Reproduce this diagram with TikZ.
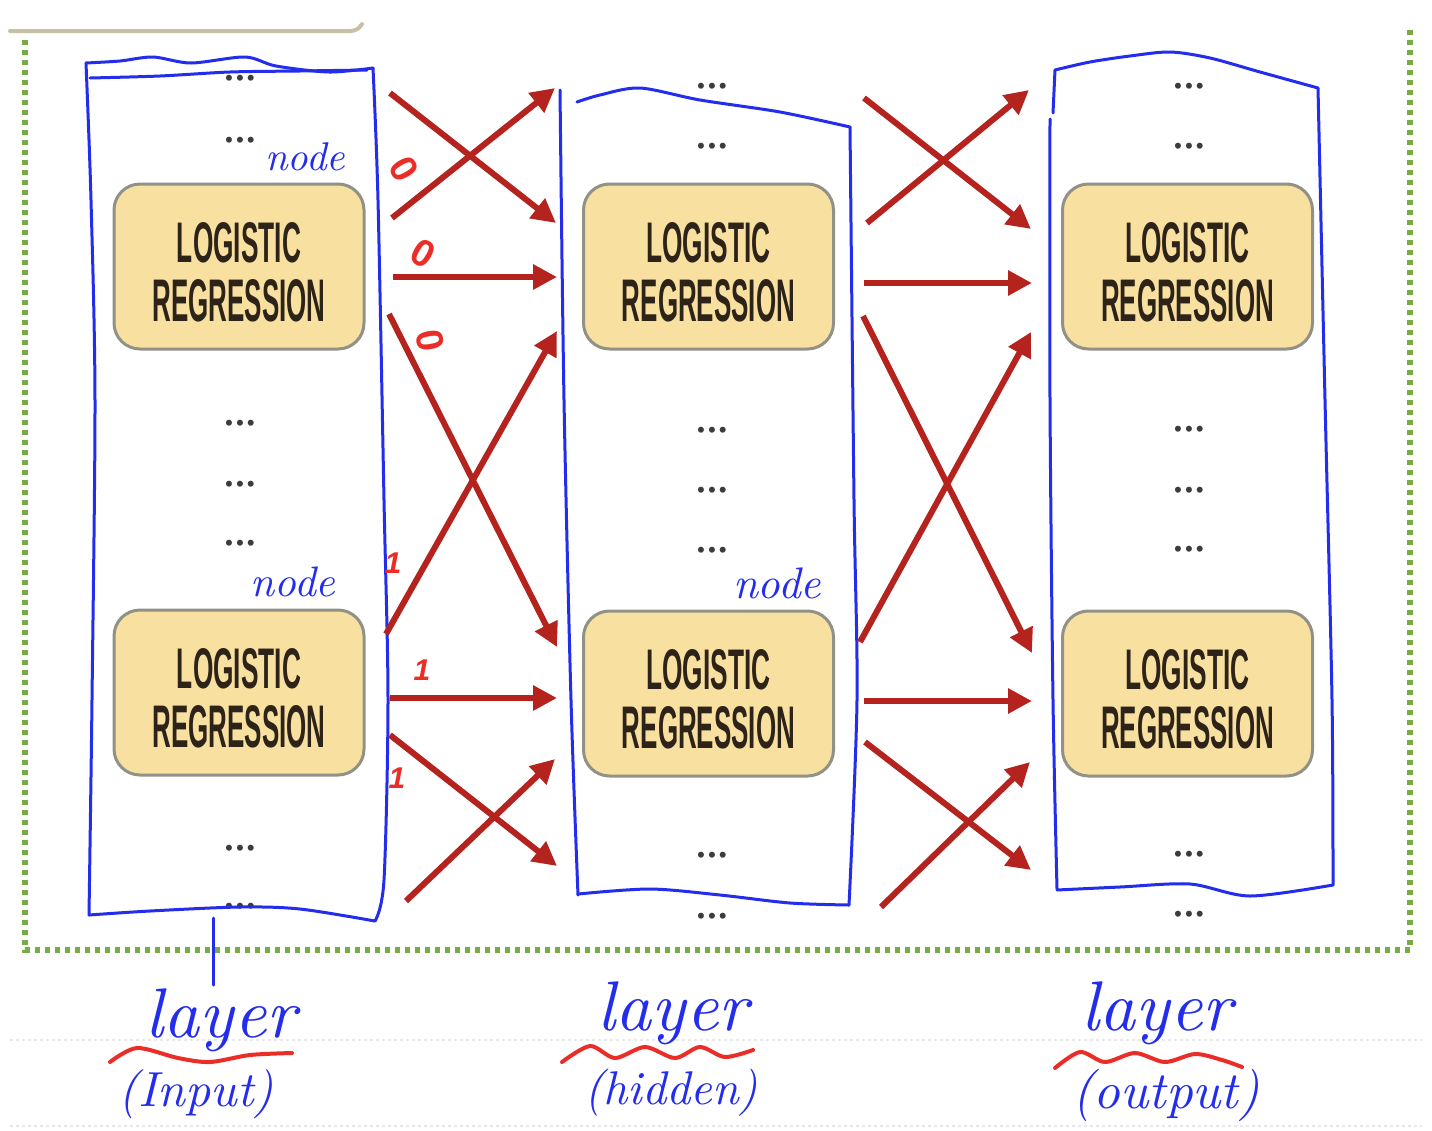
\documentclass[tikz,border=0pt]{standalone}
\usepackage{fontspec}
\usepackage{graphicx}
\newfontfamily\lrfont{Liberation Sans}
\newfontfamily\dotfont{DejaVu Sans}
\usetikzlibrary{arrows.meta}
\definecolor{pen}{RGB}{35,45,235}
\definecolor{arrred}{RGB}{180,35,30}
\definecolor{inkred}{RGB}{235,45,40}
\definecolor{lrfill}{RGB}{248,225,160}
\definecolor{lrline}{RGB}{145,145,135}
\definecolor{lrtext}{RGB}{45,35,25}
\definecolor{dotgreen}{RGB}{120,170,70}
\definecolor{dotgray}{RGB}{60,60,60}
\definecolor{bartan}{RGB}{200,192,165}
\definecolor{faint}{RGB}{232,232,232}
\tikzset{
  lrbox/.style={draw=lrline, line width=3pt, fill=lrfill, rounded corners=26pt,
    minimum width=250pt, minimum height=165pt, inner sep=0pt},
  lrtxt/.style={text=lrtext, inner sep=0pt, font=\lrfont\bfseries},
  ell/.style={text=dotgray, inner sep=0pt, font=\dotfont\bfseries\fontsize{17}{17}\selectfont},
  hand/.style={text=pen, inner sep=0pt, font=\itshape},
  pencil/.style={draw=pen, line width=3pt, line cap=round, line join=round},
  arr/.style={draw=arrred, line width=6pt, -{Triangle[length=24pt,width=24pt]}},
  squig/.style={draw=inkred, line width=4pt, line cap=round},
  redzero/.style={text=inkred, inner sep=0pt, font=\lrfont\bfseries\fontsize{38}{38}\selectfont},
  redone/.style={text=inkred, inner sep=0pt, font=\lrfont\bfseries\itshape\fontsize{30}{30}\selectfont},
  greendots/.style={draw=dotgreen, line width=6pt, dash pattern=on 5pt off 5pt},
}
\newcommand\LRlabels[1]{%
  \node[lrtxt] (#1-l1) at ([yshift=24pt]#1.center) {\resizebox{124pt}{40pt}{LOGISTIC}};
  \node[lrtxt] (#1-l2) at ([yshift=-34pt]#1.center) {\resizebox{173pt}{42pt}{REGRESSION}};}
\begin{document}
\begin{tikzpicture}[x=1pt,y=-1pt]
\fill[white] (0,0) rectangle (1432,1130);
\useasboundingbox (0,0) rectangle (1432,1130);

% top-left bar (edge of a box above)
\draw[bartan, line width=4pt, line cap=round] (10,31) -- (350,31) to[out=0,in=-120] (362,24);

% faint dotted guide lines
\draw[faint, line width=2pt, dash pattern=on 3pt off 3pt] (10,1040) -- (1422,1040);
\draw[faint, line width=2pt, dash pattern=on 3pt off 3pt] (10,1126) -- (1422,1126);

% green dotted frame
\draw[greendots] (25,40) -- (25,950) -- (1410,950) -- (1410,30);

% logistic regression boxes
\node[lrbox] (a1) at (239,266.5) {};
\node[lrbox] (a2) at (239,692.5) {};
\node[lrbox] (b1) at (708.5,266.5) {};
\node[lrbox] (b2) at (708.5,693.5) {};
\node[lrbox] (c1) at (1187.5,266.5) {};
\node[lrbox] (c2) at (1187.5,693.5) {};
\LRlabels{a1}\LRlabels{a2}\LRlabels{b1}\LRlabels{b2}\LRlabels{c1}\LRlabels{c2}

% ellipsis dots
\foreach \x/\y [count=\i] in {240/80,240/142,240/425,240/486,240/545,240/850,240/908,
  712/88,712/148,712/432,712/492,712/552,712/857,712/918,
  1189/88,1189/148,1189/431,1189/492,1189/551,1189/856,1189/916}
  \node[ell] (dots\i) at (\x,\y) {•••};

% hand-drawn blue layer boxes
\draw[pencil] plot[smooth] coordinates {(86,63) (120,61) (153,57) (191,63) (245,57) (276,66) (329,72) (373,68)};
\draw[pencil] plot[smooth] coordinates {(90,78) (160,76) (230,72) (300,71) (367,70)};
\draw[pencil] plot[smooth] coordinates {(86,63) (91,200) (95,400) (92,700) (89,915)};
\draw[pencil] plot[smooth] coordinates {(373,68) (378,200) (384,500) (388,700) (384,880) (375,921)};
\draw[pencil] plot[smooth] coordinates {(89,915) (150,911) (240,907) (300,909) (375,921)};
\draw[pencil] (213,918) -- (213,985);

\draw[pencil] plot[smooth] coordinates {(577,102) (600,95) (640,88) (700,100) (780,112) (850,127)};
\draw[pencil] plot[smooth] coordinates {(560,90) (564,400) (571,700) (578,895)};
\draw[pencil] plot[smooth] coordinates {(850,127) (854,500) (857,700) (849,905)};
\draw[pencil] plot[smooth] coordinates {(578,894) (650,889) (720,895) (790,903) (849,905)};

\draw[pencil] plot[smooth] coordinates {(1055,70) (1090,62) (1130,56) (1170,52) (1210,58) (1260,72) (1318,88)};
\draw[pencil] (1055,70) -- (1053,113);
\draw[pencil] plot[smooth] coordinates {(1050,119) (1050,400) (1053,700) (1057,889)};
\draw[pencil] plot[smooth] coordinates {(1318,88) (1325,400) (1332,700) (1333,885)};
\draw[pencil] plot[smooth] coordinates {(1057,890) (1120,887) (1190,884) (1250,896) (1333,885)};

% arrow end points
\foreach \n/\x/\y in {s1/390/93, t1/556/223, s2/392/218, t2/555/88, s3/393/277, t3/557/277,
  s4/389/314, t4/557/647, s5/386/634, t5/557/331, s6/390/698, t6/557/698,
  s7/390/735, t7/557/866, s8/406/901, t8/555/759,
  s9/864/98, t9/1031/229, s10/867/223, t10/1029/90, s11/864/283, t11/1032/283,
  s12/863/316, t12/1032/653, s13/860/642, t13/1031/332, s14/864/701, t14/1032/701,
  s15/865/742, t15/1031/870, s16/881/907, t16/1030/762}
  \coordinate (\n) at (\x,\y);
\foreach \i in {1,...,16} \draw[arr] (s\i) -- (t\i);

% red handwritten marks
\node[redzero, rotate=-60] (z1) at (404,169) {0};
\node[redzero, rotate=-30] (z2) at (423,253) {0};
\node[redzero, rotate=-80] (z3) at (430,341) {0};
\node[redone] (o1) at (393,563) {1};
\node[redone] (o2) at (422,670) {1};
\node[redone] (o3) at (397,778) {1};

% handwritten "node" labels
\node[hand] (n1) at (305,157) {\resizebox{80pt}{!}{node}};
\node[hand] (n2) at (293,582) {\resizebox{85pt}{!}{node}};
\node[hand] (n3) at (777,583) {\resizebox{88pt}{!}{node}};

% layer captions
\node[hand, anchor=base] (L1) at (221,1037) {\resizebox{150pt}{!}{layer}};
\node[hand, anchor=base] (L2) at (673,1030) {\resizebox{150pt}{!}{layer}};
\node[hand, anchor=base] (L3) at (1157,1030) {\resizebox{150pt}{!}{layer}};
\draw[squig] plot[smooth] coordinates {(110,1062) (137,1048) (178,1058) (210,1062) (250,1055) (292,1053)};
\draw[squig] plot[smooth] coordinates {(562,1062) (590,1046) (615,1058) (645,1047) (675,1058) (700,1047) (725,1057) (753,1050)};
\draw[squig] plot[smooth] coordinates {(1055,1068) (1080,1052) (1105,1062) (1135,1053) (1165,1062) (1195,1054) (1222,1060) (1242,1067)};
\node[hand, anchor=base] (I1) at (196,1106) {\resizebox{155pt}{!}{(Input)}};
\node[hand, anchor=base] (I2) at (671,1104) {\resizebox{174pt}{!}{(hidden)}};
\node[hand, anchor=base] (I3) at (1166,1108) {\resizebox{187pt}{!}{(output)}};
\end{tikzpicture}
\end{document}
